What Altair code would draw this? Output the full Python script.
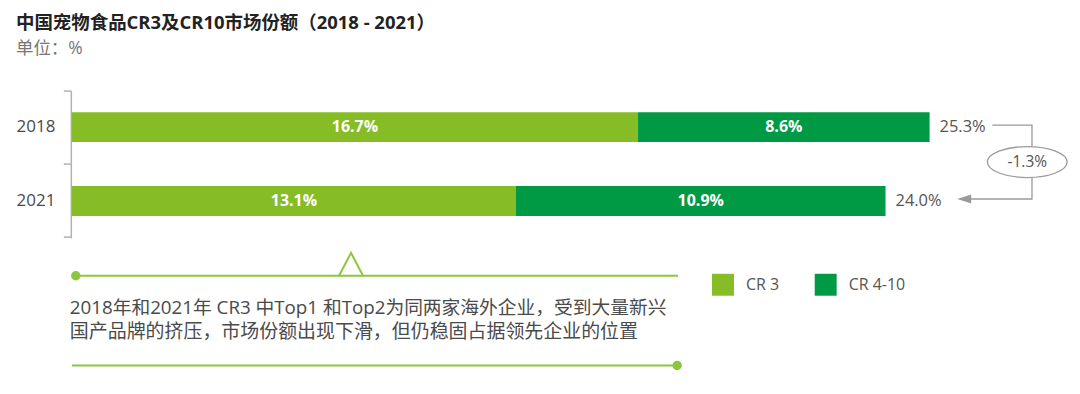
import altair as alt
import pandas as pd

# ---------------- data ----------------
years = ["2018", "2021"]
cr3 = [16.7, 13.1]
cr4_10 = [8.6, 10.9]
series = ["CR 3", "CR 4-10"]
colors = ["#86BC25", "#009A44"]
title_text = "中国宠物食品CR3及CR10市场份额（2018 - 2021）"
unit_text = "单位：%"
note_lines = [
    "2018年和2021年 CR3 中Top1 和Top2为同两家海外企业，受到大量新兴",
    "国产品牌的挤压，市场份额出现下滑，但仍稳固占据领先企业的位置",
]

FONT = "Open Sans, Noto Sans CJK SC"
GRAY = "#9a9a9a"
TEXT = "#4a4a4a"

rows = []
for i, yr in enumerate(years):
    start = 0.0
    for s, v in zip(series, [cr3[i], cr4_10[i]]):
        rows.append(dict(year=yr, series=s, start=start, end=start + v,
                         mid=start + v / 2, label=f"{v:.1f}%"))
        start += v
bars_df = pd.DataFrame(rows)

totals = [round(a + b, 1) for a, b in zip(cr3, cr4_10)]
tot_df = pd.DataFrame({"year": years, "total": totals,
                       "label": [f"{t:.1f}%" for t in totals]})
change = round(totals[1] - totals[0], 1)

# connector (in % units of the x scale)
conn_df = pd.DataFrame({
    "x": [27.15, 28.32, 28.32, 26.2],
    "year": ["2018", "2018", "2021", "2021"],
    "order": [0, 1, 2, 3],
})
arrow_df = pd.DataFrame({"x": [26.32], "year": ["2021"]})
ell_df = pd.DataFrame({"x": [28.18], "year": ["2018"], "label": [f"{change:.1f}%"]})
one = pd.DataFrame({"a": [0]})

xscale = alt.Scale(domain=[0, 29.5], nice=False, zero=False)
yscale = alt.Scale(domain=years, range=[0, 148], paddingInner=0.595, paddingOuter=0.297)

X = lambda f: alt.X(f, type="quantitative", scale=xscale, axis=None)
Y = alt.Y("year:N", scale=yscale, title=None,
          axis=alt.Axis(labelFontSize=17, labelColor=TEXT, labelFont=FONT,
                        domainColor="#b0b0b0", domainWidth=1.5, ticks=False,
                        offset=1, labelPadding=16, labelAngle=0))

bars = alt.Chart(bars_df).mark_bar().encode(
    x=X("start"), x2="end", y=Y,
    color=alt.Color("series:N", scale=alt.Scale(domain=series, range=colors),
                    legend=alt.Legend(title=None, orient="none", legendX=642, legendY=184,
                                      direction="horizontal", symbolType="square",
                                      symbolSize=484, symbolStrokeWidth=0,
                                      labelFontSize=16, labelFont=FONT, labelColor="#555",
                                      labelOffset=12, columnPadding=35, padding=0)),
)

bar_labels = alt.Chart(bars_df).mark_text(
    color="white", fontWeight="bold", fontSize=16, font=FONT, baseline="middle"
).encode(x=X("mid"), y=Y, text="label:N")

tot_labels = alt.Chart(tot_df).mark_text(
    align="left", baseline="middle", dx=10, fontSize=16.5, font=FONT, color="#555"
).encode(x=X("total"), y=Y, text="label:N")

connector = alt.Chart(conn_df).mark_line(color=GRAY, strokeWidth=1.3, yOffset=-2).encode(
    x=X("x"), y=Y, order="order:Q")

arrow = alt.Chart(arrow_df).mark_point(
    shape="M-1,0L1,-0.65L1,0.65Z", size=196, filled=True, color=GRAY, opacity=1, yOffset=-2
).encode(x=X("x"), y=Y)

ell_path = ("M-1,0C-1,-0.214,-0.5523,-0.3875,0,-0.3875C0.5523,-0.3875,1,-0.214,1,0"
            "C1,0.214,0.5523,0.3875,0,0.3875C-0.5523,0.3875,-1,0.214,-1,0Z")
ellipse = alt.Chart(ell_df).mark_point(
    shape=ell_path, size=6400, filled=True, fill="white", stroke=GRAY, strokeWidth=1.3,
    opacity=1, yOffset=35
).encode(x=X("x"), y=Y)
ell_text = alt.Chart(ell_df).mark_text(
    fontSize=15.5, font=FONT, color="#555", yOffset=35, baseline="middle"
).encode(x=X("x"), y=Y, text="label:N")

# bracket ticks of the category axis (top, middle, bottom)
AXC = "#b0b0b0"
bracket = [
    alt.Chart(one).mark_rule(color=AXC, strokeWidth=1.5).encode(
        x=alt.value(-8), x2=alt.value(-1), y=alt.value(yy))
    for yy in (0.75, 74, 147.25)
]

GREEN = "#8cc63f"
tri = alt.Chart(one).mark_point(
    shape="M-1,1L0,-0.92L1,1", size=576, filled=False, fill="white", fillOpacity=1,
    stroke=GREEN, strokeWidth=2, opacity=1
).encode(x=alt.value(280), y=alt.value(174))
top_line = alt.Chart(one).mark_rule(color=GREEN, strokeWidth=2).encode(
    x=alt.value(4), x2=alt.value(608), y=alt.value(186))
top_dot = alt.Chart(one).mark_point(filled=True, color=GREEN, size=90, opacity=1).encode(
    x=alt.value(4), y=alt.value(186))
bot_line = alt.Chart(one).mark_rule(color=GREEN, strokeWidth=2).encode(
    x=alt.value(0), x2=alt.value(607), y=alt.value(276))
bot_dot = alt.Chart(one).mark_point(filled=True, color=GREEN, size=90, opacity=1).encode(
    x=alt.value(607), y=alt.value(276))
note1 = alt.Chart(one).mark_text(
    text=note_lines[0], align="left", baseline="middle", fontSize=18.8, font=FONT, color=TEXT
).encode(x=alt.value(-2), y=alt.value(218))
note2 = alt.Chart(one).mark_text(
    text=note_lines[1], align="left", baseline="middle", fontSize=19, font=FONT, color=TEXT
).encode(x=alt.value(-2), y=alt.value(242))

chart = alt.layer(
    bars, bar_labels, tot_labels, connector, arrow, ellipse, ell_text, *bracket,
    tri, top_line, top_dot, bot_line, bot_dot, note1, note2
).properties(
    width=1003, height=290,
    title=alt.TitleParams(text=title_text, subtitle=unit_text, anchor="start", frame="group",
                          dx=-56, offset=33, fontSize=18.5, font=FONT, fontWeight="bold",
                          color="#222", subtitleFontSize=17.5, subtitleFont=FONT,
                          subtitleColor="#777", subtitlePadding=7),
    autosize="none",
    padding={"left": 64, "top": 82, "right": 0, "bottom": 0},
).configure_view(stroke=None)

chart.save("out.html", embed_options={"renderer": "svg", "actions": False})
